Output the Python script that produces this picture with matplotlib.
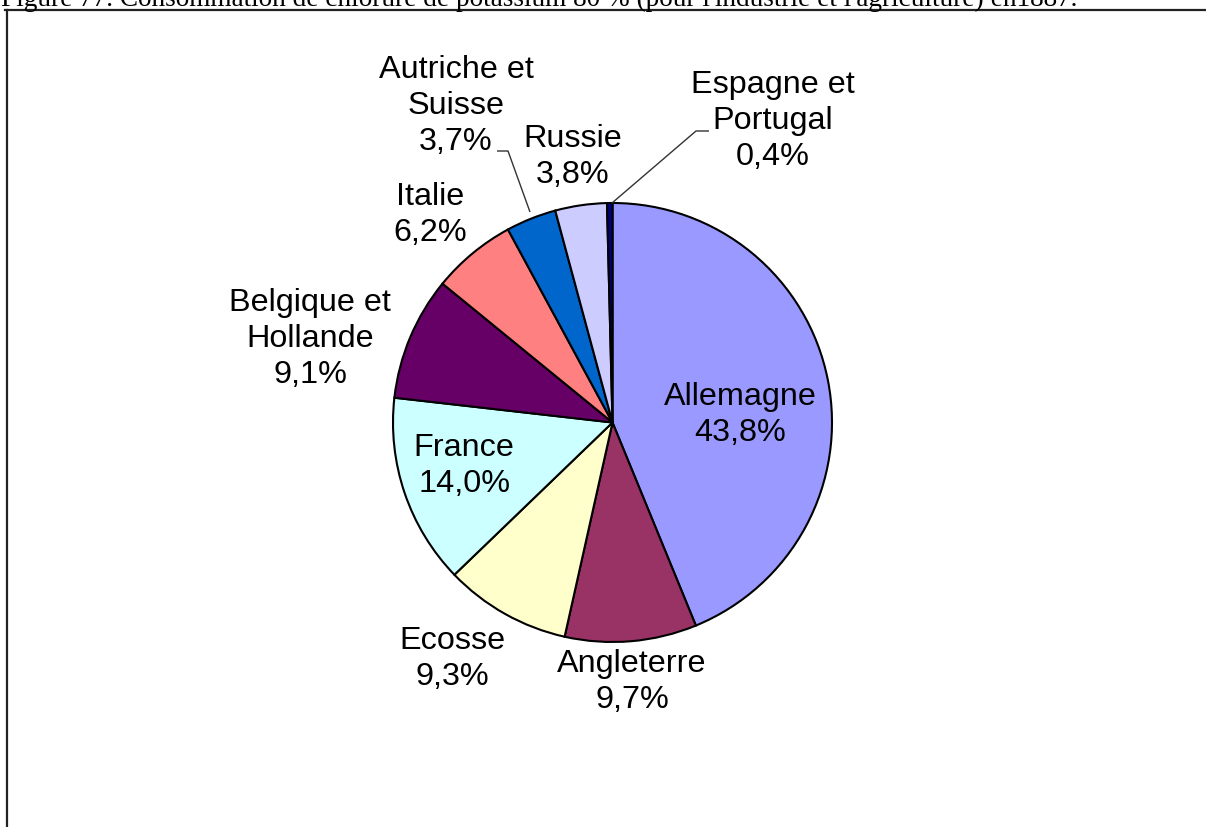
import matplotlib
matplotlib.use("Agg")
import matplotlib.pyplot as plt
from matplotlib.lines import Line2D

# Consumption shares of 80 % potassium chloride in 1887
countries = ["Allemagne", "Angleterre", "Ecosse", "France", "Belgique et\nHollande",
             "Italie", "Autriche et\nSuisse", "Russie", "Espagne et\nPortugal"]
shares = [43.8, 9.7, 9.3, 14.0, 9.1, 6.2, 3.7, 3.8, 0.4]
colors = ["#9999FF", "#993366", "#FFFFCC", "#CCFFFF", "#660066",
          "#FF8080", "#0066CC", "#CCCCFF", "#000080"]

title = ("Figure 77. Consommation de chlorure de potassium 80 % "
         "(pour l'industrie et l'agriculture) en1887.")

W, H = 1206, 827
CX, CY, R = 612.5, 422.5, 219.5

fig = plt.figure(figsize=(W / 100, H / 100), dpi=100)
ax = fig.add_axes([0, 0, 1, 1])


def px(x, y):
    """Pixel position (from top-left) to data units."""
    return (x - CX) / R, (CY - y) / R


ax.pie(shares, colors=colors, startangle=90, counterclock=False, radius=1.0,
       center=(0, 0), frame=True,
       wedgeprops=dict(edgecolor="black", linewidth=1.5))
ax.set_xlim(-CX / R, (W - CX) / R)
ax.set_ylim(-(H - CY) / R, CY / R)
ax.axis("off")

# label anchor points (pixel layout)
label_pos = [(740, 415), (632, 682), (452, 659), (464, 466), (310, 339),
             (430, 215), (456, 106), (573, 157), (773, 121)]

font = dict(family="Liberation Sans", size=23.3, color="black",
            ha="center", va="center", linespacing=1.28)
for name, val, (lx, ly) in zip(countries, shares, label_pos):
    txt = f"{name}\n{val:.1f}%".replace(".", ",")
    ax.text(*px(lx, ly), txt, **font)

# leader lines for the narrow slices
for pts in ([(497, 151), (508, 151), (530, 212)],
            [(709, 131), (696, 131), (612, 203)]):
    xs, ys = zip(*[px(x, y) for x, y in pts])
    ax.plot(xs, ys, color="#333333", lw=1.0, solid_capstyle="butt")

# page frame and caption
fig.add_artist(Line2D([5 / W, 1.0], [1 - 9.5 / H, 1 - 9.5 / H],
                      transform=fig.transFigure, color="#222222", lw=1.6))
fig.add_artist(Line2D([7 / W, 7 / W], [1 - 9.5 / H, 0.0],
                      transform=fig.transFigure, color="#222222", lw=1.6))
fig.text(1 / W, 1 - 6 / H, title, family="Liberation Serif", size=19.6,
         ha="left", va="baseline", color="black")

fig.savefig("out.png", dpi=100)
